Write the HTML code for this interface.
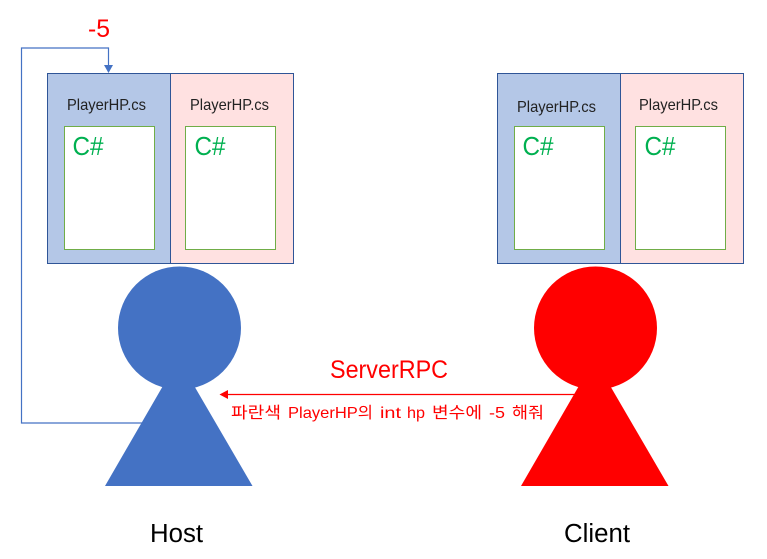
<!DOCTYPE html>
<html><head><meta charset="utf-8">
<style>
html,body{margin:0;padding:0;background:#fff;width:767px;height:559px;overflow:hidden}
svg{display:block}
text{font-family:"Liberation Sans","Noto Sans CJK KR",sans-serif}
</style></head>
<body>
<svg width="767" height="559" viewBox="0 0 767 559" xmlns="http://www.w3.org/2000/svg">
<rect width="767" height="559" fill="#fff"/>
<!-- left boxes -->
<rect x="47.5" y="73.5" width="123" height="190" fill="#b4c7e7" stroke="#2f5597"/>
<rect x="170.5" y="73.5" width="123" height="190" fill="#ffe1e1" stroke="#2f5597"/>
<rect x="64.5" y="126.5" width="90" height="123" fill="#fff" stroke="#70ad47"/>
<rect x="185.5" y="126.5" width="90" height="123" fill="#fff" stroke="#70ad47"/>
<!-- right boxes -->
<rect x="497.5" y="73.5" width="123" height="190" fill="#b4c7e7" stroke="#2f5597"/>
<rect x="620.5" y="73.5" width="123" height="190" fill="#ffe1e1" stroke="#2f5597"/>
<rect x="514.5" y="126.5" width="90" height="123" fill="#fff" stroke="#70ad47"/>
<rect x="635.5" y="126.5" width="90" height="123" fill="#fff" stroke="#70ad47"/>
<!-- labels -->
<g font-size="16" fill="#222">
<text x="67" y="110" textLength="79" lengthAdjust="spacingAndGlyphs">PlayerHP.cs</text>
<text x="190" y="110" textLength="79" lengthAdjust="spacingAndGlyphs">PlayerHP.cs</text>
<text x="517" y="112" textLength="79" lengthAdjust="spacingAndGlyphs">PlayerHP.cs</text>
<text x="639" y="110" textLength="79" lengthAdjust="spacingAndGlyphs">PlayerHP.cs</text>
</g>
<g font-size="26" fill="#00b050">
<text x="72.5" y="155" textLength="31" lengthAdjust="spacingAndGlyphs">C#</text>
<text x="194.5" y="155" textLength="31" lengthAdjust="spacingAndGlyphs">C#</text>
<text x="522.5" y="155" textLength="31" lengthAdjust="spacingAndGlyphs">C#</text>
<text x="644.5" y="155" textLength="31" lengthAdjust="spacingAndGlyphs">C#</text>
</g>
<!-- loop connector -->
<polyline points="143,423 21.5,423 21.5,48 108.5,48 108.5,66" fill="none" stroke="#4472c4" stroke-width="1.2"/>
<polygon points="104,65 113,65 108.5,73" fill="#4472c4"/>
<text x="88" y="37" font-size="25" fill="#ff0000" textLength="22" lengthAdjust="spacingAndGlyphs">-5</text>
<!-- Host -->
<polygon points="178.5,359 252.5,486 105,486" fill="#4472c4"/>
<circle cx="179.5" cy="328" r="61.5" fill="#4472c4"/>
<!-- Client -->
<polygon points="594.5,359 668.5,486 521,486" fill="#ff0000"/>
<circle cx="595.5" cy="328" r="61.5" fill="#ff0000"/>
<!-- RPC arrow -->
<line x1="227" y1="394.5" x2="578" y2="394.5" stroke="#ff0000" stroke-width="1.3"/>
<polygon points="219.5,394.5 228,390 228,399" fill="#ff0000"/>
<text x="330" y="378" font-size="25" fill="#ff0000" textLength="118" lengthAdjust="spacingAndGlyphs">ServerRPC</text>
<g font-size="16" fill="#ff0000">
<text x="231" y="418" textLength="50" lengthAdjust="spacingAndGlyphs">파란색</text>
<text x="288" y="418" textLength="85" lengthAdjust="spacingAndGlyphs">PlayerHP의</text>
<text x="380" y="418" textLength="21" lengthAdjust="spacingAndGlyphs">int</text>
<text x="407" y="418" textLength="18" lengthAdjust="spacingAndGlyphs">hp</text>
<text x="432" y="418" textLength="50" lengthAdjust="spacingAndGlyphs">변수에</text>
<text x="489" y="418" textLength="16" lengthAdjust="spacingAndGlyphs">-5</text>
<text x="512" y="418" textLength="32" lengthAdjust="spacingAndGlyphs">해줘</text>
</g>
<!-- names -->
<text x="150" y="542" font-size="25.5" fill="#000" textLength="53" lengthAdjust="spacingAndGlyphs">Host</text>
<text x="564" y="542" font-size="25.5" fill="#000" textLength="66" lengthAdjust="spacingAndGlyphs">Client</text>
</svg>
</body></html>
